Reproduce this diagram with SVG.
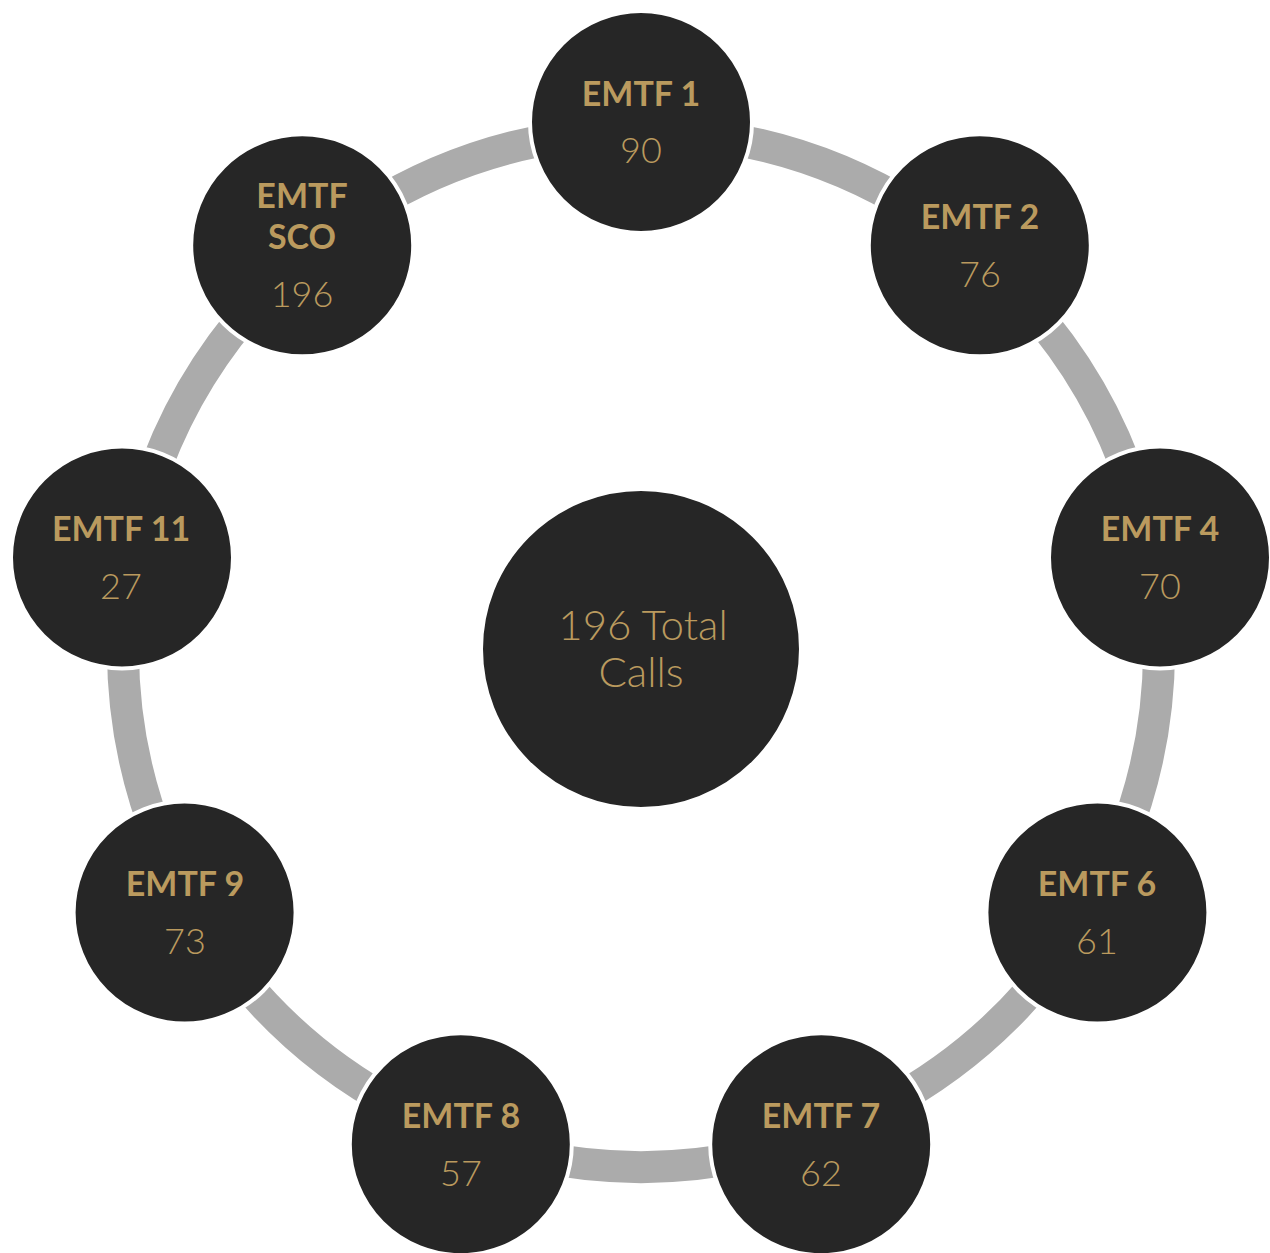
<svg xmlns="http://www.w3.org/2000/svg" width="1270" height="1253" viewBox="0 0 1270 1253">
<style>
.arc{fill:none;stroke:#ABABAB;stroke-width:32}
.node{fill:#262626;stroke:#FFFFFF;stroke-width:4}
.t{font-family:Lato,"Liberation Sans",sans-serif;font-weight:bold;font-size:34px;fill:#BA9A5E;text-anchor:middle}
.n{font-family:Lato,"Liberation Sans",sans-serif;font-weight:300;font-size:36px;fill:#BA9A5E;text-anchor:middle}
.c{font-family:Lato,"Liberation Sans",sans-serif;font-weight:300;font-size:42px;fill:#BA9A5E;text-anchor:middle}
</style>
<rect width="1270" height="1253" fill="#FFFFFF"/>
<g id="connectors">
<path class="arc" d="M713.1,136.0 A518,518 0 0 1 915.5,209.7"/>
<path class="arc" d="M1025.9,302.4 A518,518 0 0 1 1133.7,488.9"/>
<path class="arc" d="M1158.7,630.9 A518,518 0 0 1 1121.3,843.1"/>
<path class="arc" d="M1049.2,967.9 A518,518 0 0 1 884.2,1106.4"/>
<path class="arc" d="M748.7,1155.7 A518,518 0 0 1 533.3,1155.7"/>
<path class="arc" d="M397.8,1106.4 A518,518 0 0 1 232.8,967.9"/>
<path class="arc" d="M160.7,843.1 A518,518 0 0 1 123.3,630.9"/>
<path class="arc" d="M148.3,488.9 A518,518 0 0 1 256.1,302.4"/>
<path class="arc" d="M366.5,209.7 A518,518 0 0 1 568.9,136.0"/>
</g>
<g id="center">
<circle class="node" cx="641" cy="649" r="160"/>
<text class="c" x="643" y="640">196 Total</text>
<text class="c" x="641" y="687">Calls</text>
</g>
<g id="emtf1">
<circle class="node" cx="641" cy="122" r="111"/>
<text class="t" x="641" y="106">EMTF 1</text>
<text class="n" x="641" y="163">90</text>
</g>
<g id="emtf2">
<circle class="node" cx="979.8" cy="245.3" r="111"/>
<text class="t" x="980" y="229">EMTF 2</text>
<text class="n" x="980" y="287">76</text>
</g>
<g id="emtf4">
<circle class="node" cx="1160" cy="557.5" r="111"/>
<text class="t" x="1160" y="541">EMTF 4</text>
<text class="n" x="1160" y="599">70</text>
</g>
<g id="emtf6">
<circle class="node" cx="1097.4" cy="912.5" r="111"/>
<text class="t" x="1097" y="896">EMTF 6</text>
<text class="n" x="1097" y="954">61</text>
</g>
<g id="emtf7">
<circle class="node" cx="821.2" cy="1144.2" r="111"/>
<text class="t" x="821" y="1128">EMTF 7</text>
<text class="n" x="821" y="1186">62</text>
</g>
<g id="emtf8">
<circle class="node" cx="460.8" cy="1144.2" r="111"/>
<text class="t" x="461" y="1128">EMTF 8</text>
<text class="n" x="461" y="1186">57</text>
</g>
<g id="emtf9">
<circle class="node" cx="184.6" cy="912.5" r="111"/>
<text class="t" x="185" y="896">EMTF 9</text>
<text class="n" x="185" y="954">73</text>
</g>
<g id="emtf11">
<circle class="node" cx="122" cy="557.5" r="111"/>
<text class="t" x="121" y="541">EMTF 11</text>
<text class="n" x="121" y="599">27</text>
</g>
<g id="emtfsco">
<circle class="node" cx="302.2" cy="245.3" r="111"/>
<text class="t" x="302" y="208">EMTF</text>
<text class="t" x="302" y="249">SCO</text>
<text class="n" x="302" y="307">196</text>
</g>
</svg>
